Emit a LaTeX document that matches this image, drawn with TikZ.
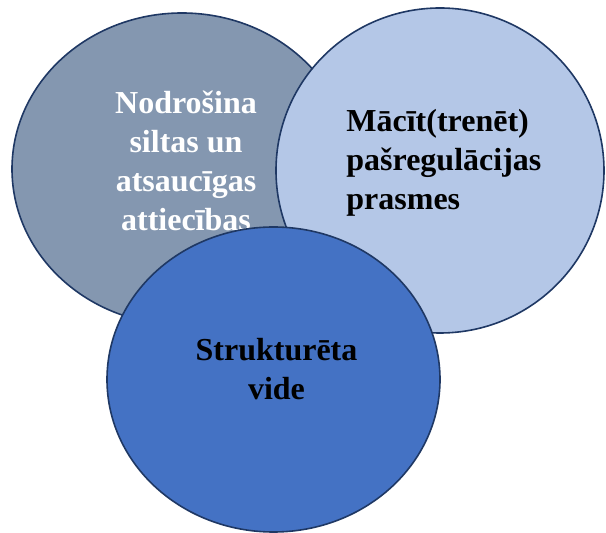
\documentclass[tikz,border=0pt]{standalone}
\usepackage{fontspec}
\setmainfont{Liberation Serif}
\usepackage{tikz}
\usetikzlibrary{shapes.geometric}
\usetikzlibrary{calc}
\definecolor{rimblue}{HTML}{1F3864}
\definecolor{slateblue}{HTML}{8497B0}
\definecolor{paleblue}{HTML}{B4C7E7}
\definecolor{midblue}{HTML}{4472C4}
\tikzset{
    blob/.style={ellipse, draw=rimblue, line width=1.6pt, inner sep=0pt},
    blobtext/.style={font=\bfseries\fontsize{32}{39}\selectfont, inner sep=0pt},
}

\begin{document}
\begin{tikzpicture}[x=1pt, y=1pt]
	\useasboundingbox (0,0) rectangle (606,533);
	\node[blob, fill=slateblue, minimum width=340pt, minimum height=312pt] (warm) at (182,364) {};
	\node[blobtext, text=white, align=center] (warmtext) at ($(warm.center)+(4,8)$) {Nodrošina\\siltas un\\atsaucīgas\\attiecības};
	\node[blob, fill=paleblue, minimum width=328pt, minimum height=325pt] (train) at (440,362.5) {};
	\node[blobtext, align=left, anchor=west] (traintext) at ($(train.west)+(71,8)$) {Mācīt(trenēt)\\pašregulācijas\\prasmes};
	\node[blob, fill=midblue, minimum width=333pt, minimum height=305pt] (frame) at (273.5,153.5) {};
	\node[blobtext, align=center] (frametext) at ($(frame.center)+(3,10)$) {Strukturēta\\vide};
\end{tikzpicture}
\end{document}
